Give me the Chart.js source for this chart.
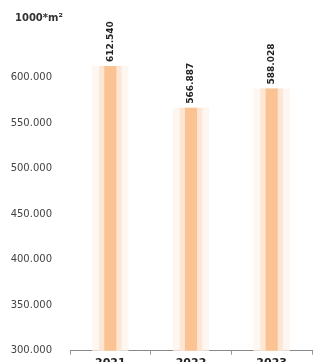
<!DOCTYPE html>
<html>
<head>
<meta charset="utf-8">
<script src="https://cdn.jsdelivr.net/npm/chart.js@4.4.0/dist/chart.umd.min.js"></script>
<style>
  html, body { margin: 0; padding: 0; background: #fff; overflow: hidden; }
  #wrap { width: 313px; height: 372px; }
</style>
</head>
<body>
<div id="wrap"><canvas id="myChart"></canvas></div>
<script>
// dati
const anni = ['2021', '2022', '2023'];
const superfici = [612540, 566887, 588028];
const unita = '1000*m\u00b2';

// 600000 -> "600.000"
const formatta = v => String(Math.round(v)).replace(/\B(?=(\d{3})+(?!\d))/g, '.');
const font = '"DejaVu Sans", Verdana, sans-serif';

/*********** etichette sopra le barre + titolo ***********/
const etichette = {
  id: 'etichette',
  afterDatasetsDraw(chart) {
    const ctx = chart.ctx;
    const meta = chart.getDatasetMeta(2);
    ctx.save();
    ctx.fillStyle = '#222';
    ctx.font = 'bold 9px ' + font;
    ctx.textAlign = 'left';
    ctx.textBaseline = 'middle';
    meta.data.forEach((bar, i) => {
      ctx.save();
      ctx.translate(bar.x, bar.y - 4);
      ctx.rotate(-Math.PI / 2);
      ctx.fillText(formatta(superfici[i]), 0, 0);
      ctx.restore();
    });
    // unita di misura in alto a sinistra
    ctx.font = 'bold 10px ' + font;
    ctx.fillStyle = '#333';
    ctx.fillText(unita, 15, 18);
    ctx.restore();
  }
};

const ctx = document.getElementById('myChart');
const myChart = new Chart(ctx, {
  type: 'bar',
  data: {
    labels: anni,
    datasets: [{
      label: 'alone esterno',
      data: superfici,
      backgroundColor: '#fef6f0',
      barPercentage: 0.45,
      categoryPercentage: 1,
      grouped: false,
      order: 3
    },
    {
      label: 'alone',
      data: superfici,
      backgroundColor: '#fde6d4',
      barPercentage: 0.28,
      categoryPercentage: 1,
      grouped: false,
      order: 2
    },
    {
      label: 'superficie',
      data: superfici,
      backgroundColor: '#fbc294',
      barPercentage: 0.15,
      categoryPercentage: 1,
      grouped: false,
      order: 1
    }]
  },
  options: {
    responsive: true,
    maintainAspectRatio: false,
    animation: false,
    layout: { padding: { top: 32, right: 1, left: 0, bottom: 0 } },
    plugins: {
      legend: { display: false },
      tooltip: { enabled: false }
    },
    scales: {
      x: {
        grid: { display: true, drawOnChartArea: false, tickLength: 4, color: '#999', offset: true },
        border: { color: '#888' },
        ticks: {
          color: '#222',
          padding: 2,
          font: { size: 11, weight: 'bold', family: font }
        }
      },
      y: {
        min: 300000,
        max: 650000,
        grid: { display: false },
        border: { display: false },
        afterFit: axis => { axis.width = 70; },
        ticks: {
          stepSize: 50000,
          padding: 10,
          color: '#444',
          font: { size: 10, family: font },
          callback: v => v > 600000 ? '' : formatta(v)
        }
      }
    }
  },
  plugins: [etichette]
});
</script>
</body>
</html>
